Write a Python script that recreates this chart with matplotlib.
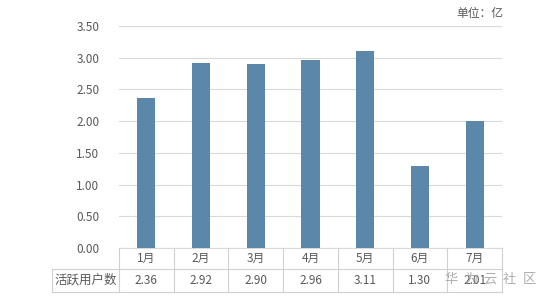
import matplotlib.pyplot as plt
import numpy as np
from matplotlib.lines import Line2D

plt.rcParams['font.family'] = ['Noto Sans CJK SC', 'DejaVu Sans']

months = ['1月', '2月', '3月', '4月', '5月', '6月', '7月']
active_users = [2.36, 2.92, 2.90, 2.96, 3.11, 1.30, 2.01]
row_label = '活跃用户数'
yticks = [0.0, 0.5, 1.0, 1.5, 2.0, 2.5, 3.0, 3.5]
watermark = ['华', '为', '云', '社', '区']

W, H = 542, 302
fig = plt.figure(figsize=(W / 100, H / 100), dpi=100)

# plot area in pixel coords
px_l, px_r, px_t, px_b = 119, 502, 26, 248
ax = fig.add_axes([px_l / W, 1 - px_b / H, (px_r - px_l) / W, (px_b - px_t) / H])

bar_color = '#5b88aa'
grid_color = '#d9d9d9'
text_color = '#595959'

x = np.arange(len(months))
ax.bar(x, active_users, width=0.33, color=bar_color, zorder=3)
ax.set_xlim(-0.5, len(months) - 0.5)
ax.set_ylim(0, 3.5)
ax.set_yticks(yticks)
ax.set_yticklabels([f'{v:.2f}' for v in yticks], fontsize=8.5, color=text_color)
ax.yaxis.grid(True, color=grid_color, linewidth=0.8, zorder=0)
ax.tick_params(axis='y', length=0, pad=14)
ax.set_xticks([])
for s in ['top', 'right', 'left']:
    ax.spines[s].set_visible(False)
ax.spines['bottom'].set_color(grid_color)

# data table below the axis, drawn in pixel space
def fx(p):
    return p / W

def fy(p):
    return 1 - p / H

row1_t, row_mid, row2_b = 248, 269, 292
label_l = 52
colw = (px_r - px_l) / len(months)
lc = '#d0d0d0'
lines = []
for k in range(len(months) + 1):
    xx = px_l + k * colw
    lines.append(([xx, xx], [row1_t, row2_b]))
lines.append(([label_l, px_r], [row_mid, row_mid]))
lines.append(([label_l, px_r], [row2_b, row2_b]))
lines.append(([label_l, label_l], [row_mid, row2_b]))
for xs, ys in lines:
    fig.add_artist(Line2D([fx(v) for v in xs], [fy(v) for v in ys], color=lc, linewidth=0.8))

for i, (m, v) in enumerate(zip(months, active_users)):
    cx = px_l + (i + 0.5) * colw
    fig.text(fx(cx), fy((row1_t + row_mid) / 2), m, ha='center', va='center',
             fontsize=8.5, color=text_color)
    fig.text(fx(cx), fy((row_mid + row2_b) / 2), f'{v:.2f}', ha='center', va='center',
             fontsize=8.5, color=text_color)
fig.text(fx((label_l + px_l) / 2), fy((row_mid + row2_b) / 2), row_label, ha='center',
         va='center', fontsize=9, color=text_color)

fig.text(fx(503), fy(13), '单位：亿', ha='right', va='center', fontsize=8.5, color=text_color)

# watermark text, spaced out like the reference
for i, ch in enumerate(watermark):
    fig.text(fx(451 + i * 19.5), fy(279), ch, ha='center', va='center', fontsize=9.5,
             color='#9a9a9a', alpha=0.8)

fig.savefig('out.png', dpi=100)
